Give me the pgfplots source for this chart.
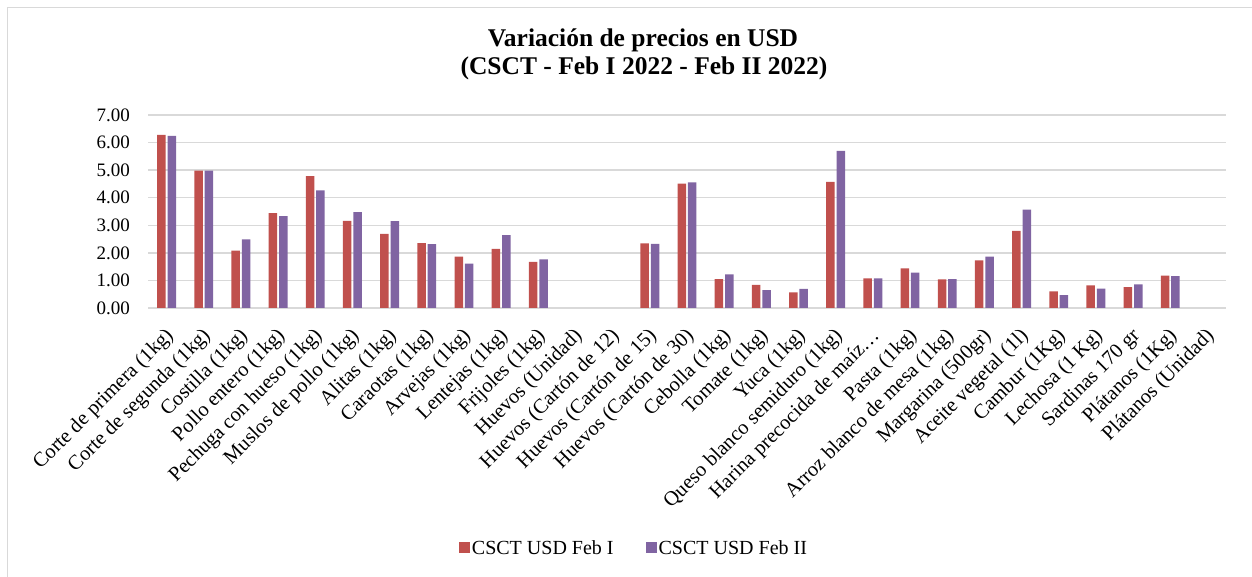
\documentclass[border=0pt]{standalone}
\usepackage{pgfplots}
\pgfplotsset{compat=1.18}
\usepackage{pgfplotstable}
\usepackage{fontspec}
\setmainfont{Liberation Serif}
\definecolor{sred}{HTML}{C0504D}
\definecolor{spurple}{HTML}{8064A2}
\definecolor{gridgray}{HTML}{D9D9D9}
\pgfplotstableread{
x red purple
0 6.28 6.24
1 4.98 4.98
2 2.08 2.49
3 3.44 3.33
4 4.78 4.27
5 3.16 3.48
6 2.69 3.15
7 2.35 2.32
8 1.86 1.61
9 2.14 2.64
10 1.67 1.76
13 2.34 2.33
14 4.51 4.56
15 1.05 1.22
16 0.84 0.65
17 0.57 0.69
18 4.57 5.70
19 1.07 1.07
20 1.44 1.28
21 1.04 1.05
22 1.73 1.86
23 2.80 3.57
24 0.60 0.47
25 0.82 0.70
26 0.76 0.86
27 1.17 1.16
}\datatable
\begin{document}
\begin{tikzpicture}
\useasboundingbox (0pt,0pt) rectangle (1252pt,577pt);
\draw[gridgray, line width=1.5pt] (7.5pt,-40pt) rectangle (1300pt,569.5pt);
\node[anchor=base, font=\bfseries\fontsize{25.5}{30}\selectfont] at (643pt,530pt) {Variación de precios en USD};
\node[anchor=base, font=\bfseries\fontsize{25.5}{30}\selectfont] at (644pt,502pt) {(CSCT - Feb I 2022 - Feb II 2022)};
\begin{axis}[
  at={(148pt,269pt)}, anchor=south west,
  scale only axis, width=1078pt, height=193pt,
  ybar=1.9pt, bar width=8.5pt,
  xmin=-0.5, xmax=28.5, ymin=0, ymax=7,
  ytick={0,1,...,7},
  xtick={0,1,...,28},
  xticklabels={Corte de primera (1kg),Corte de segunda (1kg),Costilla (1kg),Pollo entero (1kg),Pechuga con hueso (1kg),Muslos de pollo (1kg),Alitas (1kg),Caraotas (1kg),Arvejas (1kg),Lentejas (1kg),Frijoles (1kg),Huevos (Unidad),Huevos (Cartón de 12),Huevos (Cartón de 15),Huevos (Cartón de 30),Cebolla (1kg),Tomate (1kg),Yuca (1kg),Queso blanco semiduro (1kg),Harina precocida de maíz…,Pasta (1kg),Arroz blanco de mesa (1kg),Margarina (500gr),Aceite vegetal (1l),Cambur (1Kg),Lechosa (1 Kg),Sardinas 170 gr,Plátanos (1Kg),Plátanos (Unidad)},
  /pgf/number format/assume math mode=true,
  yticklabel style={/pgf/number format/fixed, /pgf/number format/fixed zerofill, /pgf/number format/precision=2},
  yticklabel style={font=\fontsize{19}{19}\selectfont, anchor=east, inner sep=0pt, xshift=-18pt},
  xticklabel style={font=\fontsize{20.5}{20.5}\selectfont, xshift=4pt, yshift=-25pt, rotate=45, anchor=east, inner sep=0pt},
  major tick length=0pt,
  axis line style={draw=none},
  ymajorgrids, major grid style={gridgray, line width=1.4pt},
  xmajorgrids=false,
  legend style={at={(0.4508,-1.2435)}, anchor=center, draw=none, legend columns=2,
    font=\fontsize{20}{20}\selectfont, column sep=0pt,
    /tikz/every even column/.append style={column sep=30pt}},
  legend cell align=left,
  legend image code/.code={\fill[#1] (-4pt,-5.5pt) rectangle (7pt,5.5pt);},
]
\addplot[fill=sred, draw=none] table[x=x, y=red] {\datatable};
\addplot[fill=spurple, draw=none] table[x=x, y=purple] {\datatable};
\legend{CSCT USD Feb I, CSCT USD Feb II}
\end{axis}
\end{tikzpicture}
\end{document}
